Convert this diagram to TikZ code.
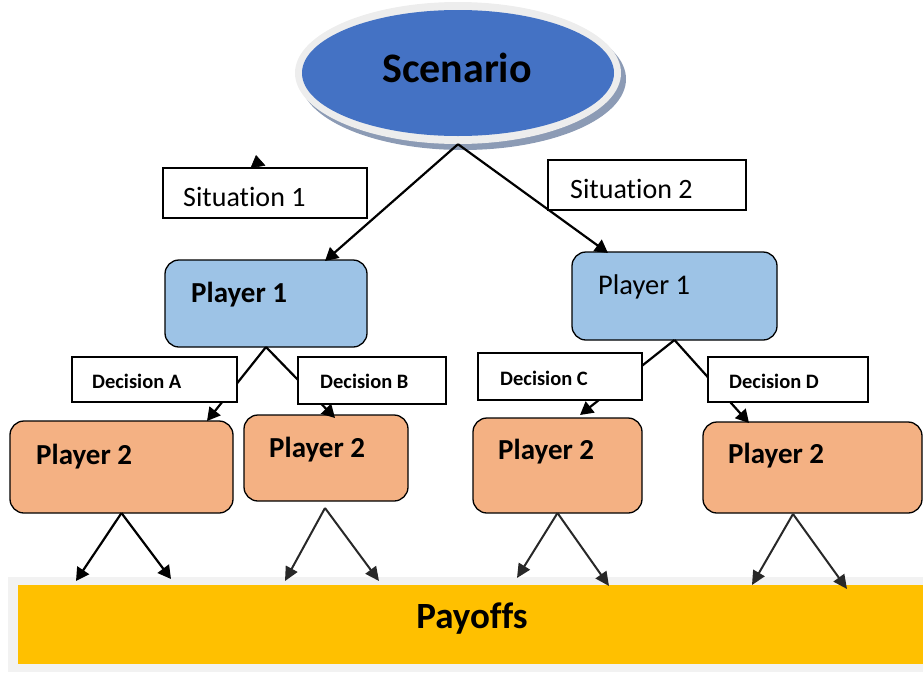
\documentclass[tikz,border=0pt]{standalone}
\usepackage{fontspec}
\setmainfont{Carlito}[Ligatures={NoCommon}]
\usetikzlibrary{arrows.meta,shapes.geometric}
\definecolor{scblue}{HTML}{4472C4}
\definecolor{scshadow}{HTML}{8C9BB5}
\definecolor{ringgrey}{HTML}{EDEDED}
\definecolor{ponebl}{HTML}{9DC3E6}
\definecolor{ptwoor}{HTML}{F4B183}
\definecolor{payyel}{HTML}{FFC000}
\definecolor{paybg}{HTML}{F2F2F2}
\definecolor{arrgrey}{HTML}{282828}
\begin{document}
\begin{tikzpicture}[x=1pt,y=-1pt,
  conn/.style={line width=2.2pt,-{Triangle[width=14pt,length=13pt]}},
  lowconn/.style={line width=2pt,draw=arrgrey,-{Triangle[width=13pt,length=14pt]}},
  labbox/.style={draw=black,line width=1.2pt,fill=white,rectangle,inner sep=0,outer sep=0},
  ponebox/.style={draw=black,line width=1.3pt,fill=ponebl,rectangle,rounded corners=14pt,inner sep=0,outer sep=0},
  ptwobox/.style={draw=black,line width=1.3pt,fill=ptwoor,rectangle,rounded corners=14pt,inner sep=0,outer sep=0},
  sittext/.style={anchor=west,inner sep=0,font=\fontsize{28}{32}\selectfont},
  dectext/.style={anchor=west,inner sep=0,font=\bfseries\fontsize{20.5}{24}\selectfont},
  ptext/.style={anchor=west,inner sep=0,font=\bfseries\fontsize{29}{34}\selectfont},
  ptextreg/.style={anchor=west,inner sep=0,font=\fontsize{28.5}{34}\selectfont}
]
\useasboundingbox (0,0) rectangle (923,672);

% Payoffs band
\node[rectangle,fill=paybg,inner sep=0,minimum width=915,minimum height=95] (paybgnode) at (465.5,624.5) {};
\node[rectangle,fill=payyel,inner sep=0,minimum width=905,minimum height=79] (pay) at (470.5,624.5) {};
\node[inner sep=0,font=\bfseries\fontsize{37}{42}\selectfont] (paytext) at (472,619) {Payoffs};

% Scenario ellipse
\node[ellipse,fill=scshadow,inner sep=0,minimum width=326,minimum height=142] (scsh) at (463,79) {};
\node[ellipse,fill=ringgrey,inner sep=0,minimum width=326,minimum height=142] (sc) at (458,73) {};
\node[ellipse,fill=scblue,inner sep=0,minimum width=312,minimum height=126] (scin) at (458,73) {};
\node[inner sep=0,font=\bfseries\fontsize{42}{48}\selectfont] (sctext) at (457,68) {Scenario};

% Player 1 boxes
\node[ponebox,minimum width=202,minimum height=87] (p1l) at (266,303.5) {};
\node[ponebox,minimum width=205,minimum height=88] (p1r) at (674.5,296) {};
\node[ptext] (p1lt) at (191,295) {Player 1};
\node[ptextreg] (p1rt) at (598,287) {Player 1};

% Player 2 boxes
\node[ptwobox,minimum width=223,minimum height=92] (p2a) at (121.5,467) {};
\node[ptwobox,minimum width=164,minimum height=86] (p2b) at (326,458) {};
\node[ptwobox,minimum width=169,minimum height=95] (p2c) at (557.5,465.5) {};
\node[ptwobox,minimum width=219,minimum height=91] (p2d) at (812.5,467.5) {};
\node[ptext] (p2at) at (36,457) {Player 2};
\node[ptext] (p2bt) at (269,450) {Player 2};
\node[ptext] (p2ct) at (498,452) {Player 2};
\node[ptext] (p2dt) at (728,456) {Player 2};

% coordinates for arrow ends
\coordinate (tp1l) at (325,261);
\coordinate (tp1r) at (608,253);
\coordinate (ta) at (207,421);
\coordinate (tb) at (335,418);
\coordinate (tc) at (580,415);
\coordinate (td) at (749,423);
\coordinate (sb) at (325,508);
\coordinate (sd) at (793,514);
\coordinate (ba1) at (76,581);
\coordinate (ba2) at (171,579);
\coordinate (bb1) at (285,581);
\coordinate (bb2) at (379,581);
\coordinate (bc1) at (517,578);
\coordinate (bc2) at (609,586);
\coordinate (bd1) at (752,585);
\coordinate (bd2) at (847,589);
\coordinate (strayA) at (258,167);
\coordinate (strayB) at (256,155);

% Scenario connectors
\draw[conn] (sc.south) -- (tp1l);
\draw[conn] (sc.south) -- (tp1r);
\draw[-{Triangle[width=15pt,length=12pt]},line width=0.6pt] (strayA) -- (strayB);

% Player 1 connectors
\draw[conn] (p1l.south) -- (ta);
\draw[conn] (p1l.south) -- (tb);
\draw[conn] (p1r.south) -- (tc);
\draw[conn] (p1r.south) -- (td);

% Player 2 to payoffs
\draw[conn] (p2a.south) -- (ba1);
\draw[conn] (p2a.south) -- (ba2);
\draw[lowconn] (sb) -- (bb1);
\draw[lowconn] (sb) -- (bb2);
\draw[lowconn] (p2c.south) -- (bc1);
\draw[lowconn] (p2c.south) -- (bc2);
\draw[lowconn] (sd) -- (bd1);
\draw[lowconn] (sd) -- (bd2);

% Situation boxes
\node[labbox,minimum width=204,minimum height=50] (s1) at (265,193) {};
\node[labbox,minimum width=198,minimum height=50] (s2) at (647,185) {};
\node[sittext] (s1t) at (183,197) {Situation 1};
\node[sittext] (s2t) at (570,189) {Situation 2};

% Decision boxes
\node[labbox,minimum width=165,minimum height=45] (dA) at (154.5,379.5) {};
\node[labbox,minimum width=148,minimum height=47] (dB) at (372,380.5) {};
\node[labbox,minimum width=164,minimum height=47] (dC) at (560,376.5) {};
\node[labbox,minimum width=160,minimum height=45] (dD) at (788,379.5) {};
\node[dectext] (dAt) at (92,381) {Decision A};
\node[dectext] (dBt) at (320,381) {Decision B};
\node[dectext] (dCt) at (500,378) {Decision C};
\node[dectext] (dDt) at (729,381) {Decision D};
\end{tikzpicture}
\end{document}
